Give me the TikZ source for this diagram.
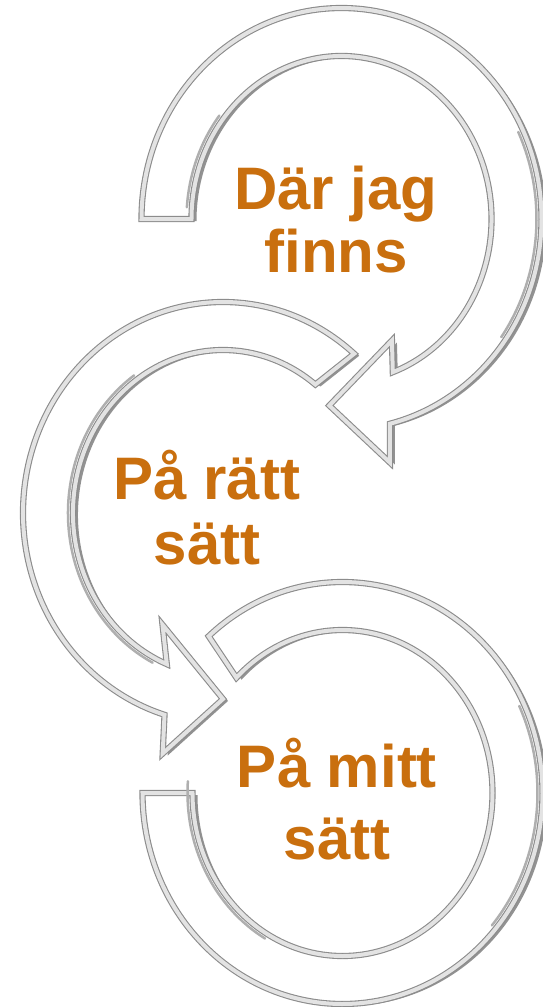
\documentclass[tikz,border=0pt]{standalone}
\usepackage{fontspec}
\setmainfont{Liberation Sans}
\usepackage{xcolor}
\usetikzlibrary{calc,shadows}
\definecolor{labelorange}{RGB}{201,111,14}
\definecolor{ringedge}{RGB}{140,140,140}
\definecolor{ringside}{RGB}{110,110,110}

\begin{document}
\begin{tikzpicture}[x=1pt, y=1pt,
    ringface/.style={fill=white, draw=ringedge, line width=1.1pt,
        double=gray!22, double distance=4pt, line join=miter,
        general shadow={fill=ringside!75, shadow xshift=5pt, shadow yshift=-2pt}},
    ringbevel/.style={draw=ringside!55, line width=2.5pt, line cap=round},
    steplabel/.style={text=labelorange, align=center}]
    \useasboundingbox (0,0) rectangle (543,-1007);

    % Ring centres
    \coordinate (ctop) at (341.5,-219);
    \coordinate (cmid) at (223,-513);
    \coordinate (cbot) at (342.5,-793);

    % Top ring: clockwise, head at the bottom
    \path[ringface] ($(ctop)+(180:200pt and 211pt)$)
        arc[start angle=180, end angle=-76, x radius=200pt, y radius=211pt]
        -- ($(ctop)+(-78:233pt and 249pt)$)
        -- ($(ctop)+(-94:175pt and 187pt)$)
        -- ($(ctop)+(-66:124pt and 133pt)$)
        -- ($(ctop)+(-70:150pt and 163pt)$)
        arc[start angle=-70, end angle=180, x radius=150pt, y radius=163pt]
        -- cycle;

    % Middle ring: anticlockwise, head at the bottom
    \path[ringface] ($(cmid)+(49:200pt and 211pt)$)
        arc[start angle=49, end angle=253, x radius=200pt, y radius=211pt]
        -- ($(cmid)+(255:233pt and 249pt)$)
        -- ($(cmid)+(270:175pt and 186pt)$)
        -- ($(cmid)+(240:121pt and 129pt)$)
        -- ($(cmid)+(248:150pt and 163pt)$)
        arc[start angle=248, end angle=52, x radius=150pt, y radius=163pt]
        -- cycle;

    % Bottom ring: no head
    \path[ringface] ($(cbot)+(132:200pt and 211pt)$)
        arc[start angle=132, end angle=-180, x radius=200pt, y radius=211pt]
        -- ($(cbot)+(180:150pt and 163pt)$)
        arc[start angle=-180, end angle=135, x radius=150pt, y radius=163pt]
        -- cycle;

    % Dark bevels
    \draw[ringbevel] ($(ctop)+(176:155pt and 168pt)$) arc[start angle=176, end angle=142, x radius=155pt, y radius=168pt];
    \draw[ringbevel] ($(ctop)+(25:195pt and 206pt)$) arc[start angle=25, end angle=-35, x radius=195pt, y radius=206pt];
    \draw[ringbevel] ($(cmid)+(125:155pt and 168pt)$) arc[start angle=125, end angle=243, x radius=155pt, y radius=168pt];
    \draw[ringbevel] ($(cbot)+(176:155pt and 168pt)$) arc[start angle=176, end angle=240, x radius=155pt, y radius=168pt];
    \draw[ringbevel] ($(cbot)+(25:195pt and 206pt)$) arc[start angle=25, end angle=-40, x radius=195pt, y radius=206pt];

    % Labels
    \node[steplabel, font=\bfseries\fontsize{60}{63}\selectfont] (where) at (336,-219.6) {Där jag\\finns};
    \node[steplabel, font=\bfseries\fontsize{60}{65}\selectfont] (right) at (207,-507.6) {På rätt\\sätt};
    \node[steplabel, font=\bfseries\fontsize{60}{72}\selectfont] (mine) at (337,-799) {På mitt\\sätt};
\end{tikzpicture}
\end{document}
